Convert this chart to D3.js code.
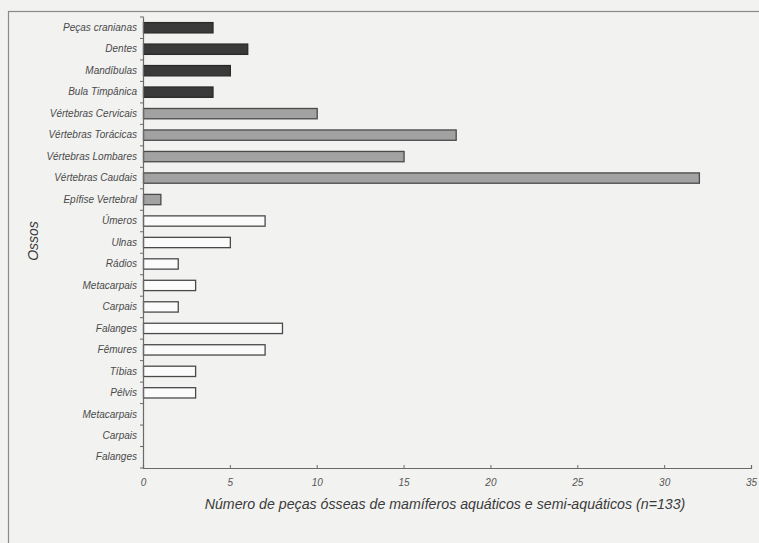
<!DOCTYPE html>
<html>
<head>
<meta charset="utf-8">
<script src="https://cdn.jsdelivr.net/npm/d3@7"></script>
<style>
  body { margin: 0; background: #f2f2f1; }
  svg { display: block; }
  text { font-family: "Liberation Sans", Arial, sans-serif; font-style: italic; }
</style>
</head>
<body>
<div id="chart"></div>
<script>
// bone categories, top to bottom
let categories = [
    'Peças cranianas', 'Dentes', 'Mandíbulas', 'Bula Timpânica',
    'Vértebras Cervicais', 'Vértebras Torácicas', 'Vértebras Lombares', 'Vértebras Caudais', 'Epífise Vertebral',
    'Úmeros', 'Ulnas', 'Rádios', 'Metacarpais', 'Carpais', 'Falanges', 'Fêmures', 'Tíbias', 'Pélvis',
    'Metacarpais ', 'Carpais ', 'Falanges '
]
let counts = [4, 6, 5, 4, 10, 18, 15, 32, 1, 7, 5, 2, 3, 2, 8, 7, 3, 3, 0, 0, 0]
// 0 = skull, 1 = vertebrae, 2 = limbs
let groups = [0, 0, 0, 0, 1, 1, 1, 1, 1, 2, 2, 2, 2, 2, 2, 2, 2, 2, 2, 2, 2]
let xTicks = [0, 5, 10, 15, 20, 25, 30, 35]

let margin = { top: 17, right: 8, bottom: 75, left: 143 },
    svgWidth = 759,
    svgHeight = 543,
    chartWidth = svgWidth - margin.left - margin.right,
    chartHeight = svgHeight - margin.top - margin.bottom

let fills = ['#3b3a3a', '#a2a2a2', '#fbfbfb']
let strokes = ['#2a2a2a', '#4a4a4a', '#4a4a4a']

let svg = d3.select('#chart')
    .append('svg')
    .attr('width', svgWidth)
    .attr('height', svgHeight)

// frame round the whole figure
svg.append('rect')
    .attr('x', 8.5)
    .attr('y', 11.5)
    .attr('width', 780)
    .attr('height', 560)
    .attr('fill', 'none')
    .attr('stroke', '#8a8a8a')
    .attr('stroke-width', 1.2)

let g = svg.append('g')
    .attr('transform', `translate(${margin.left},${margin.top})`)

let x = d3.scaleLinear()
    .domain([0, 35])
    .range([0, chartWidth])

let y = d3.scaleBand()
    .domain(categories)
    .range([0, chartHeight])
    .paddingInner(0.52)
    .paddingOuter(0.26)

// bars
g.selectAll('.bar')
    .data(categories.map((c, i) => ({ cat: c, n: counts[i], grp: groups[i] })).filter(d => d.n > 0))
    .enter().append('rect')
    .attr('class', 'bar')
    .attr('x', 0.5)
    .attr('y', d => y(d.cat))
    .attr('width', d => x(d.n))
    .attr('height', y.bandwidth())
    .attr('fill', d => fills[d.grp])
    .attr('stroke', d => strokes[d.grp])
    .attr('stroke-width', 1.3)

// x axis
let xAxis = g.append('g')
    .attr('transform', `translate(0,${chartHeight})`)
    .call(d3.axisBottom(x).tickValues(xTicks).tickSize(-3).tickPadding(11))
xAxis.select('.domain').attr('stroke', '#6a6a6a').attr('stroke-width', 1.2)
xAxis.selectAll('.tick line').attr('stroke', '#6a6a6a')
xAxis.selectAll('text')
    .attr('fill', '#555')
    .attr('font-size', '10px')

// y axis, labels only; ticks go between categories
let yAxis = g.append('g')
    .call(d3.axisLeft(y).tickSize(0).tickPadding(6))
yAxis.select('.domain').attr('stroke', '#6a6a6a').attr('stroke-width', 1.2)
yAxis.selectAll('text')
    .attr('fill', '#4a4a4a')
    .attr('font-size', '10px')

yAxis.selectAll('.sep')
    .data(d3.range(categories.length + 1))
    .enter().append('line')
    .attr('class', 'sep')
    .attr('x1', -3)
    .attr('x2', 1)
    .attr('y1', i => i * (chartHeight / categories.length))
    .attr('y2', i => i * (chartHeight / categories.length))
    .attr('stroke', '#6a6a6a')

// axis titles
svg.append('text')
    .attr('x', 445)
    .attr('y', 509)
    .attr('text-anchor', 'middle')
    .attr('font-size', '14.2px')
    .attr('fill', '#3a3a3a')
    .text('Número de peças ósseas de mamíferos aquáticos e semi-aquáticos (n=133)')

svg.append('text')
    .attr('transform', 'translate(38,241) rotate(-90)')
    .attr('text-anchor', 'middle')
    .attr('font-size', '14px')
    .attr('fill', '#3a3a3a')
    .text('Ossos')
</script>
</body>
</html>
